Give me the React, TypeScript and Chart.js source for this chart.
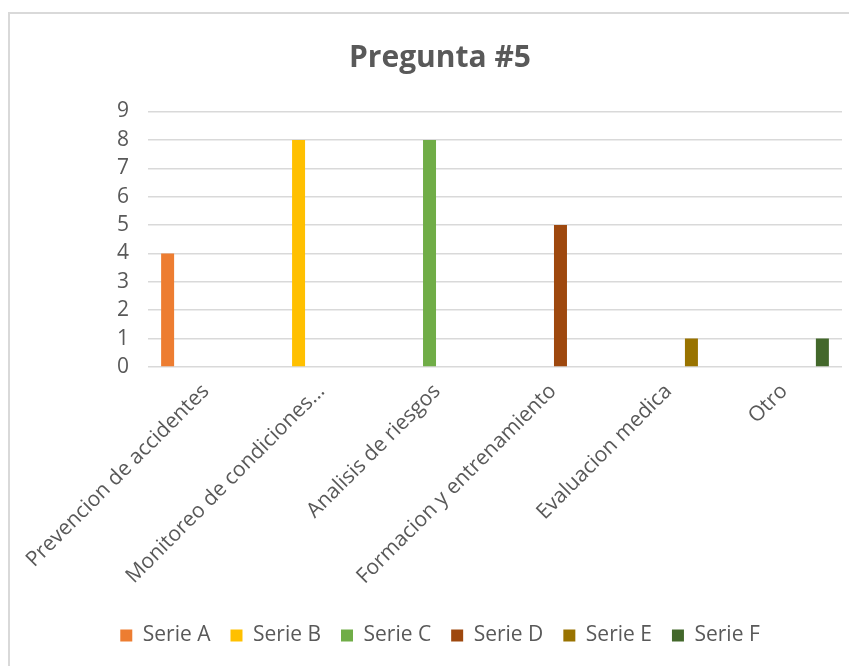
import React, { useEffect, useRef } from "react";
import { Chart, registerables } from "chart.js";

Chart.register(...registerables);

const categories = [
  "Prevencion de accidentes",
  "Monitoreo de condiciones...",
  "Analisis de riesgos",
  "Formacion y entrenamiento",
  "Evaluacion medica",
  "Otro",
];
const seriesNames = ["Serie A", "Serie B", "Serie C", "Serie D", "Serie E", "Serie F"];
const serieA = [4, null, null, null, null, null];
const serieB = [null, 8, null, null, null, null];
const serieC = [null, null, 8, null, null, null];
const serieD = [null, null, null, 5, null, null];
const serieE = [null, null, null, null, 1, null];
const serieF = [null, null, null, null, null, 1];
const seriesValues = [serieA, serieB, serieC, serieD, serieE, serieF];
const seriesColors = ["#ED7D31", "#FFC000", "#70AD47", "#9E480E", "#997300", "#43682B"];
const yTicks = [0, 1, 2, 3, 4, 5, 6, 7, 8, 9];

const FONT = "'Open Sans', sans-serif";
const TEXT = "#595959";

export default function App() {
  const ref = useRef<HTMLCanvasElement | null>(null);
  useEffect(() => {
    if (!ref.current) return;
    const chart = new Chart(ref.current, {
      type: "bar",
      data: {
        labels: categories,
        datasets: seriesNames.map((name, i) => ({
          label: name,
          data: seriesValues[i],
          backgroundColor: seriesColors[i],
          borderWidth: 0,
          categoryPercentage: 0.793,
          barPercentage: 0.85,
        })),
      },
      options: {
        animation: false,
        responsive: false,
        maintainAspectRatio: false,
        layout: { padding: { left: 13, right: 0, top: 0, bottom: 10 } },
        plugins: {
          title: {
            display: true,
            text: "Pregunta #5",
            color: TEXT,
            font: { family: FONT, size: 30, weight: "bold" },
            padding: { top: 26, bottom: 35.5 },
          },
          legend: {
            position: "bottom",
            labels: {
              color: TEXT,
              font: { family: FONT, size: 21 },
              boxWidth: 12,
              boxHeight: 12,
              padding: 20,
            },
          },
          tooltip: { enabled: false },
        },
        scales: {
          x: {
            grid: { display: false },
            border: { display: false },
            ticks: {
              color: TEXT,
              font: { family: FONT, size: 21 },
              maxRotation: 45,
              minRotation: 45,
              padding: 4,
              autoSkip: false,
            },
            afterFit: (scale: any) => {
              scale.height = 238;
            },
          },
          y: {
            min: 0,
            max: 9,
            afterBuildTicks: (scale: any) => {
              scale.ticks = yTicks.map((v) => ({ value: v }));
            },
            grid: { color: "#d9d9d9", lineWidth: 1.5, drawTicks: false },
            border: { display: false },
            ticks: {
              color: TEXT,
              font: { family: FONT, size: 21 },
              padding: 19,
            },
            afterFit: (scale: any) => {
              scale.width = 125;
            },
          },
          spacer: {
            type: "linear",
            position: "right",
            display: true,
            grid: { display: false, drawTicks: false },
            border: { display: false },
            ticks: { display: false },
            afterFit: (scale: any) => {
              scale.width = 15;
            },
          },
        },
      },
    });
    return () => chart.destroy();
  }, []);

  return (
    <div
      style={{
        marginTop: 4,
        borderLeft: "2px solid #d9d9d9",
        borderTop: "2px solid #d9d9d9",
        width: 847,
        height: 652,
        overflow: "hidden",
      }}
    >
      <canvas ref={ref} width={847} height={652} style={{ display: "block" }} />
    </div>
  );
}
